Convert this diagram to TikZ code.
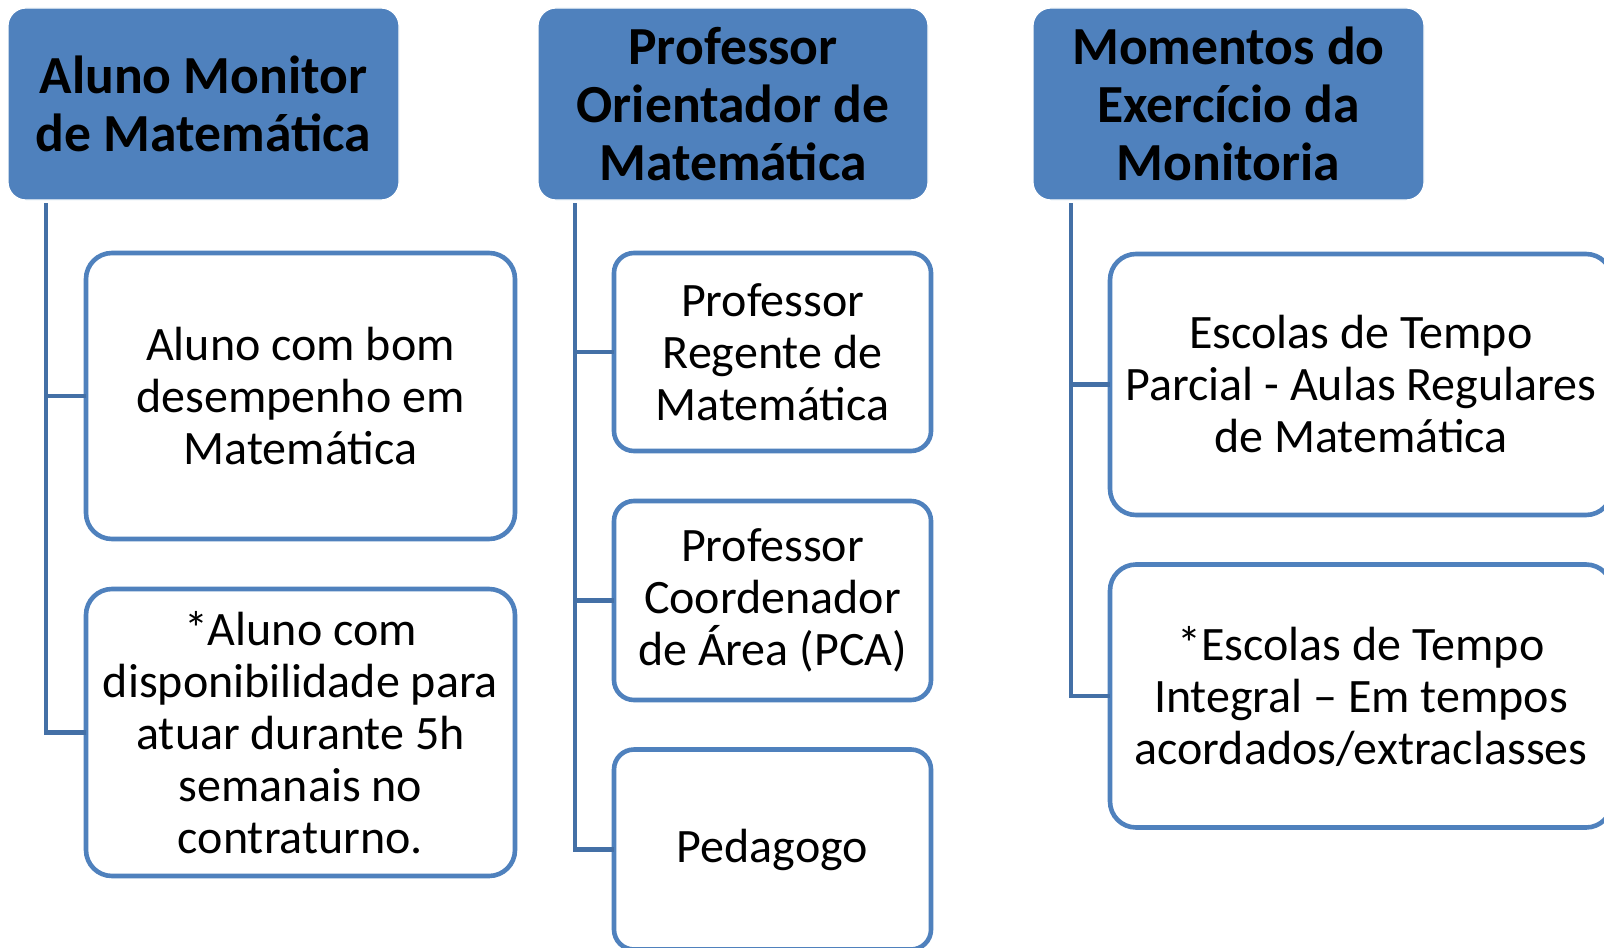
\documentclass[tikz,border=0pt]{standalone}
\usepackage{fontspec}
\setmainfont{Carlito}
\definecolor{accent}{HTML}{4F81BD}
\definecolor{conn}{HTML}{4470A6}
\tikzset{
  hdr/.style={draw=white, line width=0.6pt, fill=accent, rounded corners=9pt,
    inner sep=0pt, outer sep=0pt, align=center,
    font=\bfseries\fontsize{26.8}{29}\selectfont},
  kid/.style={draw=accent, line width=2.3pt, fill=white,
    inner sep=0pt, outer sep=0pt, align=center,
    font=\fontsize{24}{26}\selectfont},
  link/.style={draw=conn, line width=2.3pt}
}
\begin{document}
\begin{tikzpicture}[x=0.5pt, y=-0.5pt]
\clip (0,0) rectangle (1604,947);
\fill[white] (0,0) rectangle (1604,947);

% headers
\node[hdr, minimum width=195.5pt, minimum height=96pt] (h1) at (203.5,104) {Aluno Monitor\\de Matemática};
\node[hdr, minimum width=195pt, minimum height=96pt] (h2) at (733,104) {Professor\\Orientador de\\Matemática};
\node[hdr, minimum width=195.5pt, minimum height=96pt] (h3) at (1228.5,104) {Momentos do\\Exercício da\\Monitoria};

% column 1
\node[kid, rounded corners=13pt, minimum width=214.5pt, minimum height=143pt] (c1a) at (300.5,396) {Aluno com bom\\desempenho em\\Matemática};
\node[kid, rounded corners=13pt, minimum width=214.5pt, minimum height=143.5pt] (c1b) at (300.5,732.5) {*Aluno com\\disponibilidade para\\atuar durante 5h\\semanais no\\contraturno.};

% column 2
\node[kid, rounded corners=10pt, minimum width=158.5pt, minimum height=99pt] (c2a) at (772.5,352) {Professor\\Regente de\\Matemática};
\node[kid, rounded corners=10pt, minimum width=158.5pt, minimum height=99.5pt] (c2b) at (772.5,600.5) {Professor\\Coordenador\\de Área (PCA)};
\node[kid, rounded corners=10pt, minimum width=158.5pt, minimum height=100pt] (c2c) at (772.5,849.5) {Pedagogo};

% column 3
\node[kid, rounded corners=13pt, minimum width=251pt, minimum height=130.5pt] (c3a) at (1361,384.5) {Escolas de Tempo\\Parcial - Aulas Regulares\\de Matemática};
\node[kid, rounded corners=13pt, minimum width=251pt, minimum height=131.5pt] (c3b) at (1361,696) {*Escolas de Tempo\\Integral – Em tempos\\acordados/extraclasses};

% connectors
\coordinate (v1) at (46,203);
\coordinate (v2) at (575,203);
\coordinate (v3) at (1071,203);
\draw[link] (v1) |- (c1b.west);
\draw[link] (v1 |- c1a.west) -- (c1a.west);
\draw[link] (v2) |- (c2c.west);
\draw[link] (v2 |- c2a.west) -- (c2a.west);
\draw[link] (v2 |- c2b.west) -- (c2b.west);
\draw[link] (v3) |- (c3b.west);
\draw[link] (v3 |- c3a.west) -- (c3a.west);
\end{tikzpicture}
\end{document}
